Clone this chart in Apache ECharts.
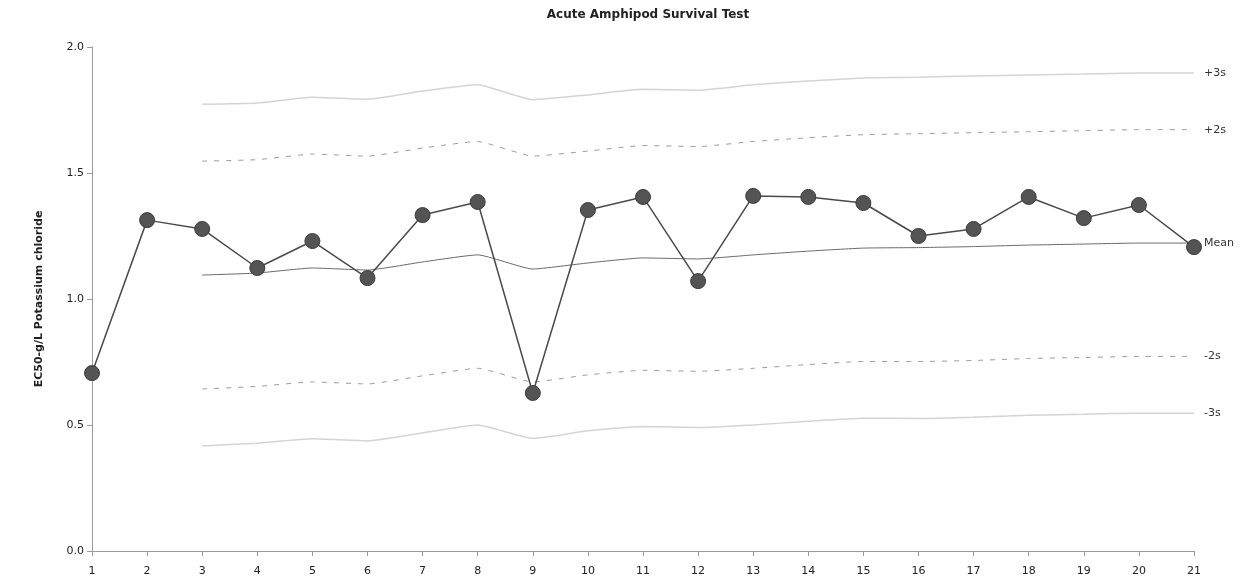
<!DOCTYPE html>
<html>
<head>
<meta charset="utf-8">
<title>Acute Amphipod Survival Test</title>
<script src="https://cdn.jsdelivr.net/npm/echarts@6/dist/echarts.min.js"></script>
<style>
  html, body { margin: 0; padding: 0; background: #ffffff; }
  #chart { width: 1243px; height: 587px; }
</style>
</head>
<body>
<div id="chart"></div>
<script>
// Test numbers along the x axis
const tests = ['1','2','3','4','5','6','7','8','9','10','11','12','13','14','15','16','17','18','19','20','21'];

// EC50 results (g/L potassium chloride) for each test
const ec50 = [0.706, 1.313, 1.278, 1.123, 1.230, 1.083, 1.333, 1.385, 0.627, 1.353, 1.405,
              1.071, 1.409, 1.405, 1.381, 1.250, 1.278, 1.405, 1.321, 1.373, 1.206];

// Running control-chart limits (start at test 3)
const meanLine = [null, null, 1.095, 1.103, 1.123, 1.115, 1.147, 1.175, 1.119, 1.143, 1.163,
                  1.159, 1.175, 1.190, 1.202, 1.204, 1.208, 1.214, 1.218, 1.222, 1.222];
const plus3s   = [null, null, 1.773, 1.778, 1.801, 1.793, 1.825, 1.850, 1.791, 1.810, 1.832,
                  1.828, 1.850, 1.865, 1.877, 1.880, 1.885, 1.889, 1.893, 1.897, 1.897];
const plus2s   = [null, null, 1.547, 1.553, 1.575, 1.567, 1.599, 1.625, 1.567, 1.587, 1.609,
                  1.605, 1.625, 1.640, 1.652, 1.656, 1.660, 1.664, 1.668, 1.672, 1.672];
const minus2s  = [null, null, 0.643, 0.653, 0.671, 0.663, 0.695, 0.725, 0.671, 0.699, 0.717,
                  0.713, 0.725, 0.740, 0.752, 0.752, 0.756, 0.764, 0.768, 0.772, 0.772];
const minus3s  = [null, null, 0.417, 0.428, 0.445, 0.437, 0.469, 0.500, 0.447, 0.477, 0.494,
                  0.490, 0.500, 0.515, 0.527, 0.526, 0.531, 0.539, 0.543, 0.547, 0.547];

// Y-axis tick values
const yTicks = [0.0, 0.5, 1.0, 1.5, 2.0];

const FONT = 'DejaVu Sans';

function limitSeries(name, data, color, type, width, labelText) {
  return {
    name: name,
    type: 'line',
    data: data,
    symbol: 'none',
    silent: true,
    smooth: 0.15,
    z: 1,
    lineStyle: { color: color, width: width, type: type },
    endLabel: {
      show: true,
      formatter: labelText,
      distance: 10,
      color: '#333',
      fontFamily: FONT,
      fontSize: 11
    }
  };
}

const chart = echarts.init(document.getElementById('chart'), null, { renderer: 'canvas' });

chart.setOption({
  animation: false,
  backgroundColor: '#ffffff',
  title: {
    text: 'Acute Amphipod Survival Test',
    left: 643,
    textAlign: 'center',
    top: 4,
    textStyle: { fontFamily: FONT, fontSize: 12, fontWeight: 'bold', color: '#222' }
  },
  grid: { left: 92, right: 49, top: 47, bottom: 36, containLabel: false },
  xAxis: {
    type: 'category',
    data: tests,
    boundaryGap: false,
    axisLine: { lineStyle: { color: '#9a9a9a', width: 1 } },
    axisTick: { show: true, alignWithLabel: true, length: 5, lineStyle: { color: '#9a9a9a' } },
    axisLabel: { color: '#222', fontFamily: FONT, fontSize: 11, margin: 15, interval: 0 },
    splitLine: { show: false }
  },
  yAxis: {
    type: 'value',
    min: yTicks[0],
    max: yTicks[yTicks.length - 1],
    interval: 0.5,
    name: 'EC50-g/L Potassium chloride',
    nameLocation: 'middle',
    nameGap: 47,
    nameTextStyle: { fontFamily: FONT, fontSize: 11, fontWeight: 'bold', color: '#222' },
    axisLine: { show: true, lineStyle: { color: '#9a9a9a', width: 1 } },
    axisTick: { show: true, length: 5, lineStyle: { color: '#9a9a9a' } },
    axisLabel: {
      color: '#222', fontFamily: FONT, fontSize: 11, margin: 8,
      formatter: v => v.toFixed(1)
    },
    splitLine: { show: false }
  },
  series: [
    limitSeries('+3s', plus3s, '#d4d4d4', 'solid', 1.5, '+3s'),
    limitSeries('+2s', plus2s, '#9c9c9c', [5, 7], 1, '+2s'),
    limitSeries('Mean', meanLine, '#6a6a6a', 'solid', 1, 'Mean'),
    limitSeries('-2s', minus2s, '#9c9c9c', [5, 7], 1, '-2s'),
    limitSeries('-3s', minus3s, '#d4d4d4', 'solid', 1.5, '-3s'),
    {
      name: 'EC50',
      type: 'line',
      data: ec50,
      z: 5,
      symbol: 'circle',
      symbolSize: 15,
      showAllSymbol: true,
      lineStyle: { color: '#4a4a4a', width: 1.5 },
      itemStyle: { color: '#545454', borderColor: '#3c3c3c', borderWidth: 1 }
    }
  ]
});
</script>
</body>
</html>
